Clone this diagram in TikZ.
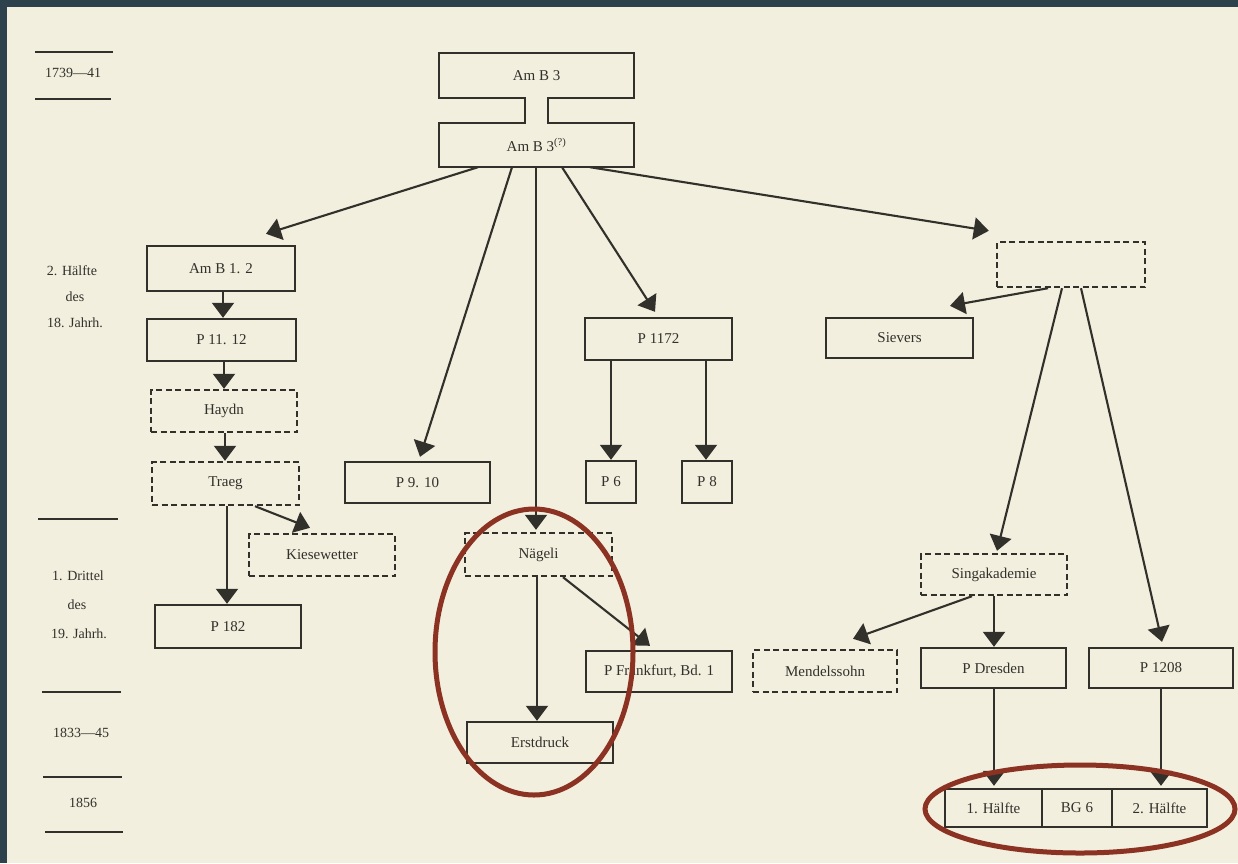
\documentclass[tikz,border=0pt]{standalone}
\usepackage{fontspec}
\setmainfont{Liberation Serif}
\usetikzlibrary{arrows.meta,calc}
\definecolor{paper}{RGB}{242,239,222}
\definecolor{frame}{RGB}{46,66,78}
\definecolor{ink}{RGB}{50,48,43}
\definecolor{marker}{RGB}{139,50,35}
\begin{document}
\begin{tikzpicture}[x=1pt,y=-1pt,
 box/.style={draw=ink, line width=2.4pt, minimum width=146pt, minimum height=42pt, inner sep=0pt, font=\fontsize{15}{17}\selectfont, text=ink},
 dbox/.style={box, dash pattern=on 6pt off 3.5pt},
 conn/.style={draw=ink, line width=2.1pt, -{Triangle[width=22pt,length=15pt]}},
 lab/.style={font=\fontsize{14}{17}\selectfont, text=ink, inner sep=0pt},
 rulel/.style={draw=ink, line width=2.2pt},
 ring/.style={draw=marker, line width=5pt}]
\useasboundingbox (0,0) rectangle (1238,863);
\fill[paper] (0,0) rectangle (1238,863);
\fill[frame] (0,0) rectangle (1238,7);
\fill[frame] (0,0) rectangle (7,863);

% time axis
\draw[rulel] (35,52) -- (113,52);
\draw[rulel] (35,99) -- (111,99);
\draw[rulel] (38,519) -- (118,519);
\draw[rulel] (42,692) -- (121,692);
\draw[rulel] (43,777) -- (122,777);
\draw[rulel] (45,832) -- (123,832);
\node[lab] (t1) at (73,73) {1739---41};
\node[lab] (t2a) at (72,271) {2. Hälfte};
\node[lab] (t2b) at (75,297) {des};
\node[lab] (t2c) at (75,323) {18. Jahrh.};
\node[lab] (t3a) at (78,576) {1. Drittel};
\node[lab] (t3b) at (77,605) {des};
\node[lab] (t3c) at (79,634) {19. Jahrh.};
\node[lab] (t4) at (81,733) {1833---45};
\node[lab] (t5) at (83,803) {1856};

% top I-shaped box
\node[box, draw=none, minimum width=193pt, minimum height=43pt] (amb3) at (536.5,75.5) {Am B 3};
\node[box, draw=none, minimum width=193pt, minimum height=42pt] (amb3q) at (536.5,145) {Am B 3\textsuperscript{(?)}};
\draw[ink, line width=2.4pt] (amb3.north west) -- (amb3.north east) -- (amb3.south east)
  -- ($(amb3.south)+(11.5,0)$) -- ($(amb3q.north)+(11.5,0)$) -- (amb3q.north east)
  -- (amb3q.south east) -- (amb3q.south west) -- (amb3q.north west)
  -- ($(amb3q.north)+(-11.5,0)$) -- ($(amb3.south)+(-11.5,0)$) -- (amb3.south west) -- cycle;

% left column
\node[box, minimum width=148pt, minimum height=45pt] (amb12) at (221,268.5) {Am B 1. 2};
\node[box, minimum width=149pt] (p1112) at (221.5,340) {P 11. 12};
\node[dbox] (haydn) at (224,411) {Haydn};
\node[dbox, minimum width=147pt, minimum height=43pt] (traeg) at (225.5,483.5) {Traeg};
\node[dbox] (kiese) at (322,555) {Kiesewetter};
\node[box, minimum height=43pt] (p182) at (228,626.5) {P 182};

% middle
\node[box, minimum width=145pt, minimum height=41pt] (p910) at (417.5,482.5) {P 9. 10};
\node[box, minimum width=147pt] (p1172) at (658.5,339) {P 1172};
\node[box, minimum width=50pt] (p6) at (611,482) {P 6};
\node[box, minimum width=50pt] (p8) at (707,482) {P 8};
\node[dbox, minimum width=147pt, minimum height=43pt] (naegeli) at (538.5,554.5) {Nägeli};
\node[box, minimum height=41pt] (erst) at (540,742.5) {Erstdruck};
\node[box, minimum height=41pt] (pfrank) at (659,671.5) {P Frankfurt, Bd. 1};

% right
\node[dbox, minimum width=148pt, minimum height=45pt] (anon) at (1071,264.5) {};
\node[box, minimum width=147pt, minimum height=40pt] (sievers) at (899.5,338) {Sievers};
\node[dbox, minimum height=41pt] (singak) at (994,574.5) {Singakademie};
\node[dbox, minimum width=144pt] (mendel) at (825,671) {Mendelssohn};
\node[box, minimum width=145pt, minimum height=40pt] (pdresden) at (993.5,668) {P Dresden};
\node[box, minimum width=144pt, minimum height=40pt] (p1208) at (1161,668) {P 1208};
\node[box, minimum width=97pt, minimum height=38pt] (h1) at (993.5,808) {1. Hälfte};
\node[box, minimum width=70pt, minimum height=38pt] (bg6) at (1077,808) {BG 6};
\node[box, minimum width=95pt, minimum height=38pt] (h2) at (1159.5,808) {2. Hälfte};

% connectors
\draw[conn] ($(amb3q.south)+(-58.5,0)$) -- ($(amb12.north)+(45,-11)$);
\draw[conn] ($(amb3q.south)+(-24.5,0)$) -- ($(p910.north)+(2.5,-4)$);
\draw[conn] ($(amb3q.south)+(-0.5,0)$) -- ($(naegeli.north)+(-2.5,-2)$);
\draw[conn] ($(amb3q.south)+(25.5,0)$) -- ($(p1172.north)+(-3.5,-5)$);
\draw[conn] ($(amb3q.south)+(53.5,0)$) -- ($(anon.north west)+(-7,-10)$);
\draw[conn] ($(amb12.south)+(2,0)$) -- ($(p1112.north)+(1.5,0)$);
\draw[conn] ($(p1112.south)+(2.5,0)$) -- ($(haydn.north)+(0,0)$);
\draw[conn] ($(haydn.south)+(1,0)$) -- ($(traeg.north)+(-0.5,0)$);
\draw[conn] ($(traeg.south)+(1.5,0)$) -- ($(p182.north)+(-1,0)$);
\draw[conn] ($(traeg.south)+(29.5,0)$) -- ($(kiese.north)+(-12,-5)$);
\draw[conn] (p1172.south -| p6.north) -- (p6.north);
\draw[conn] ($(p1172.south -| p8.north)+(-1,0)$) -- ($(p8.north)+(-1,0)$);
\draw[conn] ($(naegeli.south)+(-1.5,0)$) -- ($(erst.north)+(-3,0)$);
\draw[conn] ($(naegeli.south)+(24.5,0)$) -- ($(pfrank.north)+(-9,-4)$);
\draw[conn] ($(anon.south)+(-23,0)$) -- ($(sievers.north)+(50.5,-11)$);
\draw[conn] ($(anon.south)+(-9,0)$) -- ($(singak.north)+(3,-2)$);
\draw[conn] ($(anon.south)+(10,0)$) -- ($(p1208.north)+(1,-5)$);
\draw[conn] (singak.south) -- ($(pdresden.north)+(0.5,0)$);
\draw[conn] ($(singak.south)+(-22,0)$) -- ($(mendel.north)+(28,-10)$);
\draw[conn] ($(pdresden.south)+(0.5,0)$) -- ($(h1.north)+(0.5,-2)$);
\draw[conn] (p1208.south) -- ($(h2.north)+(1.5,-2)$);

% red markings
\draw[ring] (534,652) ellipse [x radius=99, y radius=143];
\draw[ring] (1080,809) ellipse [x radius=155, y radius=44];
\end{tikzpicture}
\end{document}
